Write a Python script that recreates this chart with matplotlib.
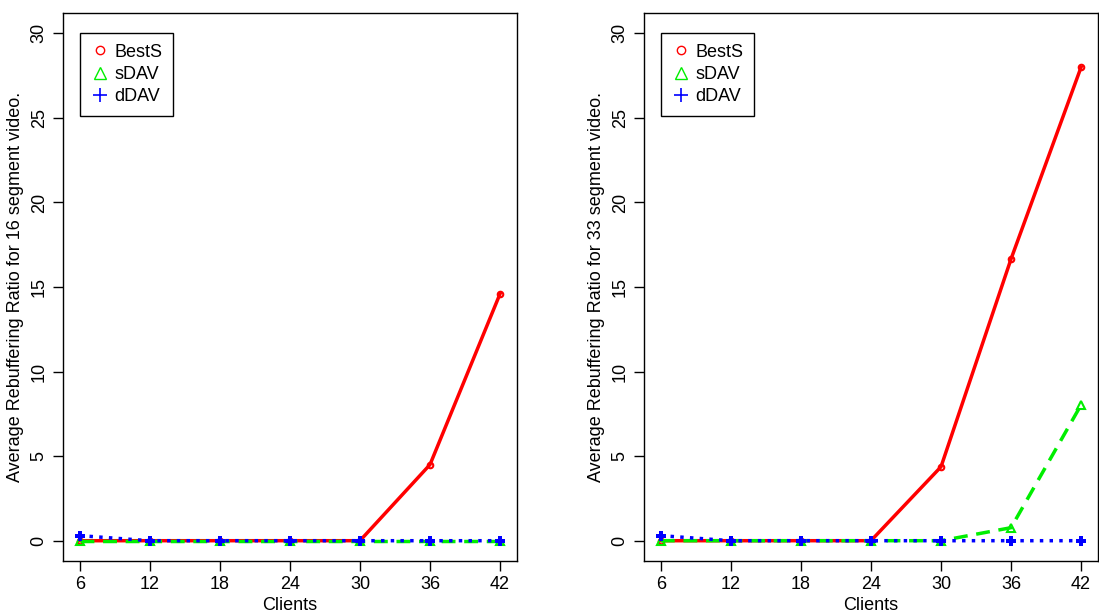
import numpy as np
from matplotlib import pyplot as plt
from matplotlib.lines import Line2D

plt.rcParams['font.family'] = ['Liberation Sans', 'DejaVu Sans']

clients = [6, 12, 18, 24, 30, 36, 42]

# 16 segment video
bests_16 = [0, 0, 0, 0, 0, 4.5, 14.6]
sdav_16 = [0, 0, 0, 0, 0, 0, 0]
ddav_16 = [0.3, 0, 0, 0, 0, 0, 0]

# 33 segment video
bests_33 = [0, 0, 0, 0, 4.37, 16.66, 28.0]
sdav_33 = [0, 0, 0, 0, 0, 0.77, 8.03]
ddav_33 = [0.3, 0, 0, 0, 0, 0, 0]

panels = [
    ('Average Rebuffering Ratio for 16 segment video.', bests_16, sdav_16, ddav_16),
    ('Average Rebuffering Ratio for 33 segment video.', bests_33, sdav_33, ddav_33),
]

fig = plt.figure(figsize=(10.99, 6.15), dpi=100)
lefts = [0.0573, 0.586]

for left, (ylab, bests, sdav, ddav) in zip(lefts, panels):
    ax = fig.add_axes([left, 0.0878, 0.413, 0.891])
    ax.plot(clients, bests, color='red', lw=2.5, ls='-',
            marker='o', ms=4, mfc='none', mew=1.5)
    ax.plot(clients, sdav, color='#00ee00', lw=2.5, ls=(0, (4, 2.5)),
            marker='^', ms=6, mfc='none', mew=1.5)
    ax.plot(clients, ddav, color='blue', lw=2.5, ls=(0, (1, 1.8)),
            marker='P', ms=7, mew=0)

    ax.set_xlim(6 - 36 * 0.04, 42 + 36 * 0.04)
    ax.set_ylim(-30 * 0.04, 30 * 1.04)
    ax.set_xticks(clients)
    ax.set_yticks([0, 5, 10, 15, 20, 25, 30])
    ax.tick_params(direction='out', length=7, width=1, labelsize=13, pad=4)
    for lbl in ax.get_yticklabels():
        lbl.set_rotation(90)
        lbl.set_va('center')
    ax.set_xlabel('Clients', fontsize=13, labelpad=3)
    ax.set_ylabel(ylab, fontsize=13, labelpad=5)
    for s in ax.spines.values():
        s.set_linewidth(1)

    handles = [
        Line2D([], [], ls='none', marker='o', color='red', mfc='none', ms=6),
        Line2D([], [], ls='none', marker='^', color='#00ee00', mfc='none', ms=8),
        Line2D([], [], ls='none', marker='+', color='blue', ms=10, mew=1.2),
    ]
    ax.legend(handles, ['BestS', 'sDAV', 'dDAV'], loc='upper left',
              bbox_to_anchor=(0.037, 0.964), borderaxespad=0, fontsize=13,
              frameon=True, fancybox=False, edgecolor='black', framealpha=1,
              handletextpad=0.3, borderpad=0.6, labelspacing=0.3,
              handlelength=1.0)

fig.savefig('out.png', dpi=100)
